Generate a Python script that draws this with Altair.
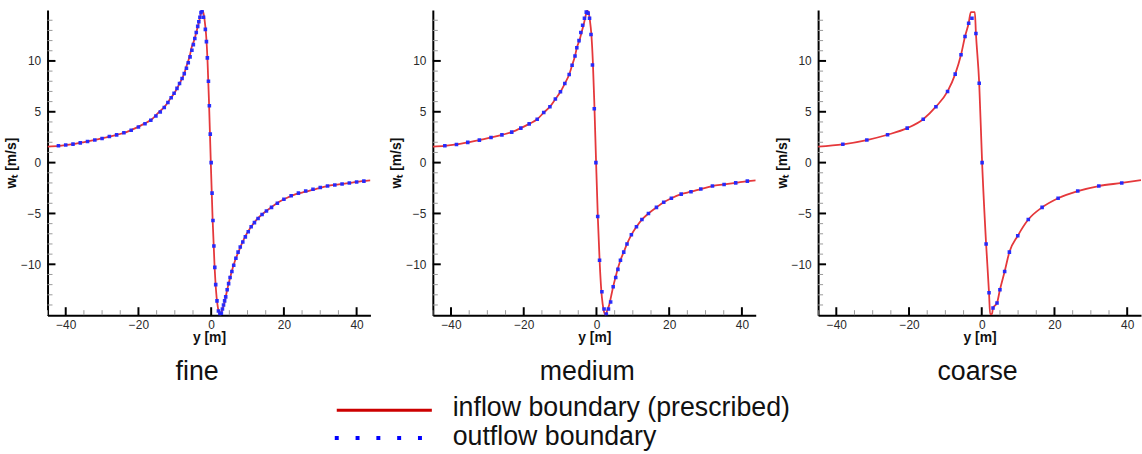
import altair as alt
import pandas as pd

FONT = "Liberation Sans"

# ---- axis ranges and tick positions -------------------------------------
x_domain = [-45.0, 43.8]
w_domain = [-15.0, 15.0]
x_major = [-40, -20, 0, 20, 40]
x_minor = [-45, -35, -30, -25, -15, -10, -5, 5, 10, 15, 25, 30, 35]
w_major = [-10, -5, 0, 5, 10]
w_minor = [-14, -13, -12, -11, -9, -8, -7, -6, -4, -3, -2, -1,
           1, 2, 3, 4, 6, 7, 8, 9, 11, 12, 13, 14]

grids = ["fine", "medium", "coarse"]
legend_labels = ["inflow boundary (prescribed)", "outflow boundary"]

# ---- prescribed inflow profile (fine and medium grids) -------------------
inflow_y = [-45.0, -41.7, -38.5, -35.4, -32.2, -29.0, -26.0, -23.3, -20.8, -18.5,
            -16.3, -14.5, -12.8, -11.3, -9.9, -8.7, -7.5, -6.7, -5.9, -5.4,
            -4.7, -4.1, -3.5, -3.0, -2.6, -2.2, -1.8, -1.4, -1.0, -0.6,
            -0.1, 0.4, 0.9, 1.3, 1.7, 2.1, 2.5, 3.0, 3.5, 4.0,
            4.6, 5.3, 5.9, 6.6, 7.5, 8.4, 9.6, 11.0, 12.5, 14.3,
            16.5, 18.5, 20.6, 23.3, 26.0, 28.7, 31.9, 35.1, 38.3, 41.5, 43.8]
inflow_w = [1.58, 1.65, 1.79, 1.99, 2.21, 2.47, 2.73, 3.00, 3.39, 3.81,
            4.26, 4.92, 5.50, 6.25, 6.97, 7.78, 8.66, 9.57, 10.48, 11.3,
            12.0, 12.8, 13.6, 14.4, 14.95, 14.8, 14.0, 12.6, 10.0, 6.0,
            0.0, -5.6, -9.9, -12.4, -13.9, -14.7, -15.0, -14.5, -14.0, -13.2,
            -12.2, -11.2, -10.4, -9.6, -8.8, -8.0, -7.1, -6.3, -5.6, -5.0,
            -4.4, -3.9, -3.5, -3.1, -2.86, -2.6, -2.3, -2.15, -1.99, -1.82, -1.75]

# prescribed inflow profile on the coarse grid
inflow_coarse_y = [-45.0, -38.2, -31.6, -25.9, -20.5, -16.1, -12.6, -9.4, -7.3, -5.7,
                   -4.6, -3.6, -3.0, -1.9, -1.6, -0.7, 0.1, 1.2, 2.0, 2.3,
                   2.8, 3.1, 4.2, 5.0, 6.3, 7.6, 9.9, 12.8, 16.6, 21.0,
                   26.4, 32.2, 38.5, 43.8]
inflow_coarse_w = [1.58, 1.80, 2.22, 2.74, 3.39, 4.27, 5.5, 7.0, 8.7, 10.6,
                   12.4, 13.7, 14.8, 14.8, 12.7, 7.8, 0.0, -8.0, -12.8, -14.9,
                   -14.9, -14.3, -13.8, -12.5, -10.7, -8.8, -7.2, -5.6, -4.4, -3.5,
                   -2.8, -2.3, -2.0, -1.72]

# ---- outflow boundary samples ---------------------------------------------
fine_y = [-42.0, -40.0, -38.0, -36.0, -34.0, -32.0, -30.0, -28.0, -26.0, -24.0,
          -22.0, -20.0, -18.2, -16.6, -15.2, -14.0, -12.9, -11.9, -11.0, -10.2,
          -9.4, -8.7, -8.0, -7.4, -6.8, -6.3, -5.8, -5.3, -4.9, -4.5,
          -4.1, -3.7, -3.4, -3.1, -2.8, -2.5, -2.1, -1.6, -1.3, -1.05,
          -0.75, -0.5, -0.25, 0.0, 0.25, 0.5, 0.75, 1.0, 1.25, 1.6,
          2.0, 2.4, 2.8, 3.1, 3.4, 3.7, 4.0, 4.4, 4.8, 5.2,
          5.7, 6.2, 6.8, 7.4, 8.0, 8.7, 9.4, 10.2, 11.0, 11.9,
          12.9, 14.0, 15.2, 16.6, 18.2, 20.0, 22.0, 24.0, 26.0, 28.0,
          30.0, 32.0, 34.0, 36.0, 38.0, 40.0, 42.0]
fine_w = [1.66, 1.74, 1.82, 1.94, 2.07, 2.22, 2.38, 2.56, 2.73, 2.93,
          3.18, 3.50, 3.82, 4.17, 4.58, 4.97, 5.42, 5.92, 6.38, 6.82,
          7.30, 7.78, 8.27, 8.75, 9.28, 9.82, 10.40, 11.05, 11.6, 12.2,
          12.8, 13.4, 13.85, 14.3, 14.75, 14.95, 14.3, 13.1, 11.9, 10.3,
          8.0, 5.6, 2.8, 0.0, -3.0, -5.7, -8.2, -10.3, -12.0, -13.6,
          -14.6, -14.95, -14.8, -14.4, -14.0, -13.6, -13.2, -12.5, -11.9, -11.3,
          -10.7, -10.1, -9.4, -8.8, -8.3, -7.8, -7.3, -6.8, -6.3, -5.9,
          -5.5, -5.1, -4.75, -4.4, -4.0, -3.6, -3.25, -3.0, -2.8, -2.62,
          -2.45, -2.3, -2.2, -2.1, -2.0, -1.9, -1.82]

medium_y = [-41.7, -38.5, -35.4, -32.2, -29.0, -26.0, -23.3, -20.8, -18.5, -16.3,
            -14.5, -12.8, -11.3, -9.9, -8.7, -7.5, -6.7, -5.9, -5.4, -4.8,
            -4.3, -3.8, -3.3, -2.8, -2.3, -1.9, -1.5, -1.1, -0.6, -0.15,
            0.35, 0.85, 1.5, 2.1, 2.7, 3.3, 3.9, 4.6, 5.3, 5.9,
            6.6, 7.5, 8.4, 9.6, 11.0, 12.5, 14.3, 16.5, 18.5, 20.6,
            23.3, 26.0, 28.7, 31.9, 35.1, 38.3, 41.5]
medium_w = [1.65, 1.79, 1.99, 2.21, 2.47, 2.73, 3.00, 3.39, 3.81, 4.26,
            4.92, 5.50, 6.25, 6.97, 7.78, 8.66, 9.57, 10.48, 11.3, 12.0,
            12.8, 13.5, 14.2, 14.8, 14.7, 14.2, 12.6, 9.6, 5.3, 0.0,
            -5.3, -9.6, -12.7, -14.4, -14.9, -14.4, -13.7, -12.2, -11.3, -10.5,
            -9.6, -8.8, -8.0, -7.1, -6.3, -5.6, -5.0, -4.4, -3.9, -3.5,
            -3.1, -2.86, -2.6, -2.3, -2.15, -1.99, -1.82]

coarse_y = [-38.2, -31.6, -25.9, -20.5, -16.1, -12.6, -9.4, -7.3, -5.7, -4.6,
            -3.6, -2.7, -1.6, -0.7, 0.1, 1.2, 2.0, 3.1, 4.2, 5.0,
            6.3, 7.6, 9.9, 12.8, 16.6, 21.0, 26.4, 32.2, 38.5]
coarse_w = [1.80, 2.22, 2.74, 3.39, 4.27, 5.5, 7.0, 8.7, 10.6, 12.4,
            13.7, 14.2, 12.7, 7.8, 0.0, -8.0, -12.8, -14.3, -13.8, -12.5,
            -10.7, -8.8, -7.2, -5.6, -4.4, -3.5, -2.8, -2.3, -2.0]

RED = "#e5383b"
BLUE = "#1f26ff"
PW, PH = 326, 308


def panel(name, in_y, in_w, out_y, out_w, dx):
    xs = alt.Scale(domain=x_domain, nice=False, zero=False)
    ys = alt.Scale(domain=w_domain, nice=False, zero=False)
    x_axis = alt.Axis(values=x_major, title="y [m]", labelPadding=4, titlePadding=1)
    y_axis = alt.Axis(values=w_major, title="wₜ [m/s]", labelPadding=7, titlePadding=2)

    inflow = pd.DataFrame({"y": in_y, "w": in_w})
    outflow = pd.DataFrame({"y": out_y, "w": out_w})

    line = alt.Chart(inflow).mark_line(
        color=RED, strokeWidth=1.8, clip=True, interpolate="monotone").encode(
        x=alt.X("y:Q", scale=xs, axis=x_axis),
        y=alt.Y("w:Q", scale=ys, axis=y_axis))
    dots = alt.Chart(outflow).mark_square(
        color=BLUE, size=13, opacity=0.95, clip=True).encode(
        x=alt.X("y:Q", scale=xs, axis=x_axis),
        y=alt.Y("w:Q", scale=ys, axis=y_axis))

    # inward tick marks along the left and bottom frame
    y_minor = alt.Chart(pd.DataFrame({"v": w_minor})).mark_rule(
        color="#9a9a9a", strokeWidth=1).encode(
        y=alt.Y("v:Q", scale=ys, axis=y_axis), x=alt.value(0), x2=alt.value(5))
    y_major = alt.Chart(pd.DataFrame({"v": w_major})).mark_rule(
        color="#000000", strokeWidth=2).encode(
        y=alt.Y("v:Q", scale=ys, axis=y_axis), x=alt.value(0), x2=alt.value(8))
    x_min = alt.Chart(pd.DataFrame({"v": x_minor})).mark_rule(
        color="#9a9a9a", strokeWidth=1).encode(
        x=alt.X("v:Q", scale=xs, axis=x_axis), y=alt.value(PH), y2=alt.value(PH - 5))
    x_maj = alt.Chart(pd.DataFrame({"v": x_major})).mark_rule(
        color="#000000", strokeWidth=2).encode(
        x=alt.X("v:Q", scale=xs, axis=x_axis), y=alt.value(PH), y2=alt.value(PH - 8))

    return alt.layer(line, y_minor, y_major, x_min, x_maj, dots).properties(
        width=PW, height=PH,
        title=alt.TitleParams(name, orient="bottom", fontSize=27, font=FONT,
                              fontWeight="normal", color="#111111", offset=14, dx=dx))


row = alt.hconcat(
    panel(grids[0], inflow_y, inflow_w, fine_y, fine_w, -12),
    panel(grids[1], inflow_y, inflow_w, medium_y, medium_w, -7),
    panel(grids[2], inflow_coarse_y, inflow_coarse_w, coarse_y, coarse_w, -2),
    spacing=18,
)

# legend drawn beneath the three panels
one = pd.DataFrame({"label": [legend_labels[0]]})
two = pd.DataFrame({"label": [legend_labels[1]]})
leg_line = alt.Chart(one).mark_rule(color="#cc0000", strokeWidth=3).encode(
    x=alt.value(292), x2=alt.value(388), y=alt.value(24))
leg_dots = alt.Chart(two).mark_rule(
    color="#0000ff", strokeWidth=4, strokeDash=[4, 17], strokeCap="butt").encode(
    x=alt.value(290), x2=alt.value(378), y=alt.value(52))
leg_t1 = alt.Chart(one).mark_text(
    align="left", baseline="middle", fontSize=27, font=FONT, color="#111111").encode(
    text="label:N", x=alt.value(409), y=alt.value(22))
leg_t2 = alt.Chart(two).mark_text(
    align="left", baseline="middle", fontSize=27, font=FONT, color="#111111").encode(
    text="label:N", x=alt.value(409), y=alt.value(51))
legend = alt.layer(leg_line, leg_dots, leg_t1, leg_t2).properties(width=1080, height=64)

chart = alt.vconcat(row, legend, spacing=0).properties(
    padding={"left": 4, "top": 7, "right": 0, "bottom": 0}
).configure_view(stroke="transparent").configure_axis(
    domainColor="#000000", domainWidth=2, ticks=False, grid=False,
    labelFont=FONT, labelFontSize=12, labelColor="#2a2a2a",
    titleFont=FONT, titleFontSize=14, titleFontWeight="bold", titleColor="#111111",
)

chart.save("out.html", embed_options={"renderer": "svg", "actions": False})
